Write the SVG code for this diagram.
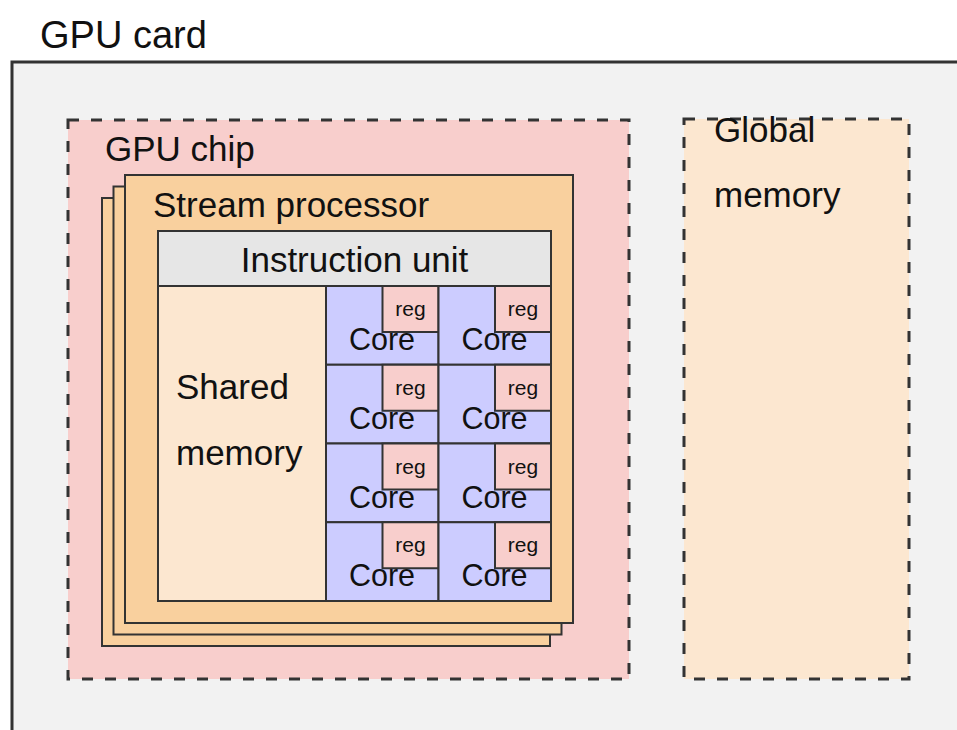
<svg xmlns="http://www.w3.org/2000/svg" width="957" height="730" viewBox="0 0 957 730">
  <style>
    text { font-family: "Liberation Sans", Arial, Helvetica, sans-serif; fill: #111; }
    .lbl { font-size: 35px; }
    .core { font-size: 30.5px; text-anchor: middle; }
    .reg { font-size: 21px; text-anchor: middle; }
    .solid { stroke: #333; stroke-width: 2; }
    .dash { stroke: #333; stroke-width: 3; stroke-dasharray: 11 12; }
    .sp { fill: #f9d09e; }
    .corecell { fill: #ccccff; }
    .regbox { fill: #f8cecc; }
  </style>
  <rect width="957" height="730" fill="#ffffff"/>

  <g id="gpu-card">
    <rect x="12" y="62" width="1000" height="720" fill="#f2f2f2" stroke="#333" stroke-width="3"/>
    <text x="40" y="48" style="font-size:38px">GPU card</text>
  </g>

  <g id="gpu-chip">
    <rect class="dash" x="68" y="120" width="561" height="559" fill="#f8cecc"/>
    <text class="lbl" x="105" y="161">GPU chip</text>
  </g>

  <g id="global-memory">
    <rect class="dash" x="684" y="119" width="225" height="560" fill="#fce7d0"/>
    <text class="lbl" x="714" y="142">Global</text>
    <text class="lbl" x="714" y="207">memory</text>
  </g>

  <g id="stream-processor">
    <rect class="solid sp" x="102" y="198" width="448" height="448"/>
    <rect class="solid sp" x="113.5" y="186.5" width="448" height="448"/>
    <rect class="solid sp" x="125" y="175" width="448" height="448"/>
    <text class="lbl" x="153" y="217">Stream processor</text>
  </g>

  <g id="instruction-unit">
    <rect class="solid" x="158" y="231" width="393" height="55" fill="#e6e6e6"/>
    <text class="lbl" x="354.5" y="272" text-anchor="middle">Instruction unit</text>
  </g>

  <g id="shared-memory">
    <rect class="solid" x="158" y="286" width="168" height="315" fill="#fce7d0"/>
    <text class="lbl" x="176" y="399">Shared</text>
    <text class="lbl" x="176" y="465">memory</text>
  </g>

  <g id="core-1-1">
    <rect class="solid corecell" x="326" y="286" width="112.5" height="78.75"/>
    <text class="core" x="382" y="350">Core</text>
    <rect class="solid regbox" x="382.5" y="286" width="56" height="46"/>
    <text class="reg" x="410.5" y="316">reg</text>
  </g>
  <g id="core-1-2">
    <rect class="solid corecell" x="438.5" y="286" width="112.5" height="78.75"/>
    <text class="core" x="494.5" y="350">Core</text>
    <rect class="solid regbox" x="495" y="286" width="56" height="46"/>
    <text class="reg" x="523" y="316">reg</text>
  </g>
  <g id="core-2-1">
    <rect class="solid corecell" x="326" y="364.75" width="112.5" height="78.75"/>
    <text class="core" x="382" y="428.75">Core</text>
    <rect class="solid regbox" x="382.5" y="364.75" width="56" height="46"/>
    <text class="reg" x="410.5" y="394.75">reg</text>
  </g>
  <g id="core-2-2">
    <rect class="solid corecell" x="438.5" y="364.75" width="112.5" height="78.75"/>
    <text class="core" x="494.5" y="428.75">Core</text>
    <rect class="solid regbox" x="495" y="364.75" width="56" height="46"/>
    <text class="reg" x="523" y="394.75">reg</text>
  </g>
  <g id="core-3-1">
    <rect class="solid corecell" x="326" y="443.5" width="112.5" height="78.75"/>
    <text class="core" x="382" y="507.5">Core</text>
    <rect class="solid regbox" x="382.5" y="443.5" width="56" height="46"/>
    <text class="reg" x="410.5" y="473.5">reg</text>
  </g>
  <g id="core-3-2">
    <rect class="solid corecell" x="438.5" y="443.5" width="112.5" height="78.75"/>
    <text class="core" x="494.5" y="507.5">Core</text>
    <rect class="solid regbox" x="495" y="443.5" width="56" height="46"/>
    <text class="reg" x="523" y="473.5">reg</text>
  </g>
  <g id="core-4-1">
    <rect class="solid corecell" x="326" y="522.25" width="112.5" height="78.75"/>
    <text class="core" x="382" y="586.25">Core</text>
    <rect class="solid regbox" x="382.5" y="522.25" width="56" height="46"/>
    <text class="reg" x="410.5" y="552.25">reg</text>
  </g>
  <g id="core-4-2">
    <rect class="solid corecell" x="438.5" y="522.25" width="112.5" height="78.75"/>
    <text class="core" x="494.5" y="586.25">Core</text>
    <rect class="solid regbox" x="495" y="522.25" width="56" height="46"/>
    <text class="reg" x="523" y="552.25">reg</text>
  </g>

  <g id="connectors"></g>
</svg>
